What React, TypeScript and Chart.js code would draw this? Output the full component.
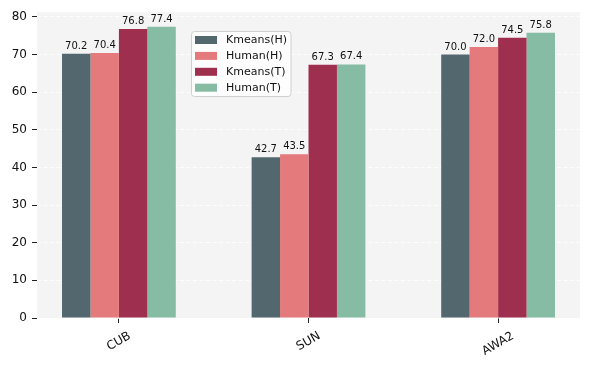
import React, { useEffect, useRef } from "react";
import { Chart, registerables } from "chart.js";

Chart.register(...registerables);

const categories = ["CUB", "SUN", "AWA2"];
const seriesNames = ["Kmeans(H)", "Human(H)", "Kmeans(T)", "Human(T)"];
const kmeansH = [70.2, 42.7, 70.0];
const humanH = [70.4, 43.5, 72.0];
const kmeansT = [76.8, 67.3, 74.5];
const humanT = [77.4, 67.4, 75.8];
const yTicks = [0, 10, 20, 30, 40, 50, 60, 70, 80];
const colors = ["#52676E", "#E57A7C", "#9E2F4F", "#86BBA4"];

const FONT = "'DejaVu Sans', 'Liberation Sans', sans-serif";

export default function App() {
  const ref = useRef<HTMLCanvasElement | null>(null);

  useEffect(() => {
    const canvas = ref.current;
    if (!canvas) return;
    const allSeries = [kmeansH, humanH, kmeansT, humanT];

    const bgPlugin = {
      id: "bg",
      beforeDraw(chart: any) {
        const { ctx, chartArea } = chart;
        ctx.save();
        ctx.fillStyle = "#f4f4f4";
        ctx.fillRect(chartArea.left, chartArea.top, chartArea.right - chartArea.left, chartArea.bottom - chartArea.top);
        ctx.restore();
      },
    };

    const labelPlugin = {
      id: "vals",
      afterDatasetsDraw(chart: any) {
        const { ctx } = chart;
        ctx.save();
        ctx.font = `10px ${FONT}`;
        ctx.fillStyle = "#111";
        ctx.textAlign = "center";
        ctx.textBaseline = "alphabetic";
        chart.data.datasets.forEach((ds: any, i: number) => {
          const meta = chart.getDatasetMeta(i);
          meta.data.forEach((bar: any, j: number) => {
            const v = ds.data[j].y;
            ctx.fillText(v.toFixed(1), bar.x, bar.y - 5);
          });
        });
        ctx.restore();
      },
    };

    const xLabelPlugin = {
      id: "xlabels",
      afterDraw(chart: any) {
        const { ctx, chartArea } = chart;
        const xs = chart.scales.x;
        ctx.save();
        ctx.font = `12px ${FONT}`;
        ctx.fillStyle = "#111";
        ctx.textAlign = "center";
        ctx.textBaseline = "middle";
        const ang = (30 * Math.PI) / 180;
        const H = 13;
        categories.forEach((c, i) => {
          const px = xs.getPixelForValue(i);
          const w = ctx.measureText(c).width;
          const y0 = chartArea.bottom + 11.5;
          const cy = y0 + (w * Math.sin(ang) + H * Math.cos(ang)) / 2;
          ctx.save();
          ctx.translate(px, cy);
          ctx.rotate(-ang);
          ctx.fillText(c, 0, 0);
          ctx.restore();
        });
        ctx.restore();
      },
    };

    const legendPlugin = {
      id: "customLegend",
      afterDraw(chart: any) {
        const { ctx } = chart;
        const bx = 191.5, by = 31.5, bw = 99.5, bh = 65, r = 3;
        ctx.save();
        ctx.beginPath();
        ctx.moveTo(bx + r, by);
        ctx.lineTo(bx + bw - r, by);
        ctx.quadraticCurveTo(bx + bw, by, bx + bw, by + r);
        ctx.lineTo(bx + bw, by + bh - r);
        ctx.quadraticCurveTo(bx + bw, by + bh, bx + bw - r, by + bh);
        ctx.lineTo(bx + r, by + bh);
        ctx.quadraticCurveTo(bx, by + bh, bx, by + bh - r);
        ctx.lineTo(bx, by + r);
        ctx.quadraticCurveTo(bx, by, bx + r, by);
        ctx.closePath();
        ctx.fillStyle = "rgba(255,255,255,0.8)";
        ctx.fill();
        ctx.strokeStyle = "#d0d0d0";
        ctx.lineWidth = 1;
        ctx.stroke();
        ctx.font = `11px ${FONT}`;
        ctx.textAlign = "left";
        ctx.textBaseline = "middle";
        seriesNames.forEach((name, i) => {
          const cy = 40 + i * 15.9;
          ctx.fillStyle = colors[i];
          ctx.fillRect(195, cy - 4, 22, 8);
          ctx.fillStyle = "#111";
          ctx.fillText(name, 226, cy + 0.5);
        });
        ctx.restore();
      },
    };

    const chart = new Chart(canvas, {
      type: "bar",
      data: {
        datasets: allSeries.map((s, i) => ({
          label: seriesNames[i],
          data: s.map((v, j) => ({ x: j, y: v })),
          backgroundColor: colors[i],
          borderWidth: 0,
          categoryPercentage: 0.6,
          barPercentage: 1.0,
        })),
      },
      options: {
        responsive: false,
        animation: false,
        devicePixelRatio: 1,
        layout: { padding: { left: 0, right: 9, top: 10, bottom: 0 } },
        plugins: { legend: { display: false }, tooltip: { enabled: false } },
        scales: {
          x: {
            type: "linear",
            min: -0.432,
            max: 2.432,
            offset: false,
            afterBuildTicks: (scale: any) => {
              scale.ticks = categories.map((_, i) => ({ value: i }));
            },
            afterFit: (scale: any) => {
              scale.height = 52;
            },
            ticks: { display: false, includeBounds: false },
            grid: {
              offset: false,
              drawOnChartArea: false,
              drawTicks: true,
              tickLength: 5,
              tickColor: "#222",
              tickWidth: 1,
              tickBorderDash: [],
            },
            border: { display: false },
          },
          y: {
            type: "linear",
            min: 0,
            max: 81.27,
            afterBuildTicks: (scale: any) => {
              scale.ticks = yTicks.map((v) => ({ value: v }));
            },
            afterFit: (scale: any) => {
              scale.width = 37;
            },
            ticks: {
              stepSize: 10,
              includeBounds: false,
              padding: 5,
              color: "#111",
              font: { family: FONT, size: 12 },
            },
            grid: {
              color: "#ffffff",
              lineWidth: 0.8,
              drawTicks: true,
              tickLength: 5,
              tickColor: "#222",
              tickWidth: 1,
              tickBorderDash: [],
            },
            border: { display: false, dash: [4, 2.5] },
          },
        },
      },
      plugins: [bgPlugin, labelPlugin, xLabelPlugin, legendPlugin],
    } as any);

    return () => chart.destroy();
  }, []);

  return (
    <canvas
      ref={ref}
      width={589}
      height={370}
      style={{ position: "fixed", left: 0, top: 0, width: 589, height: 370, display: "block" }}
    />
  );
}
